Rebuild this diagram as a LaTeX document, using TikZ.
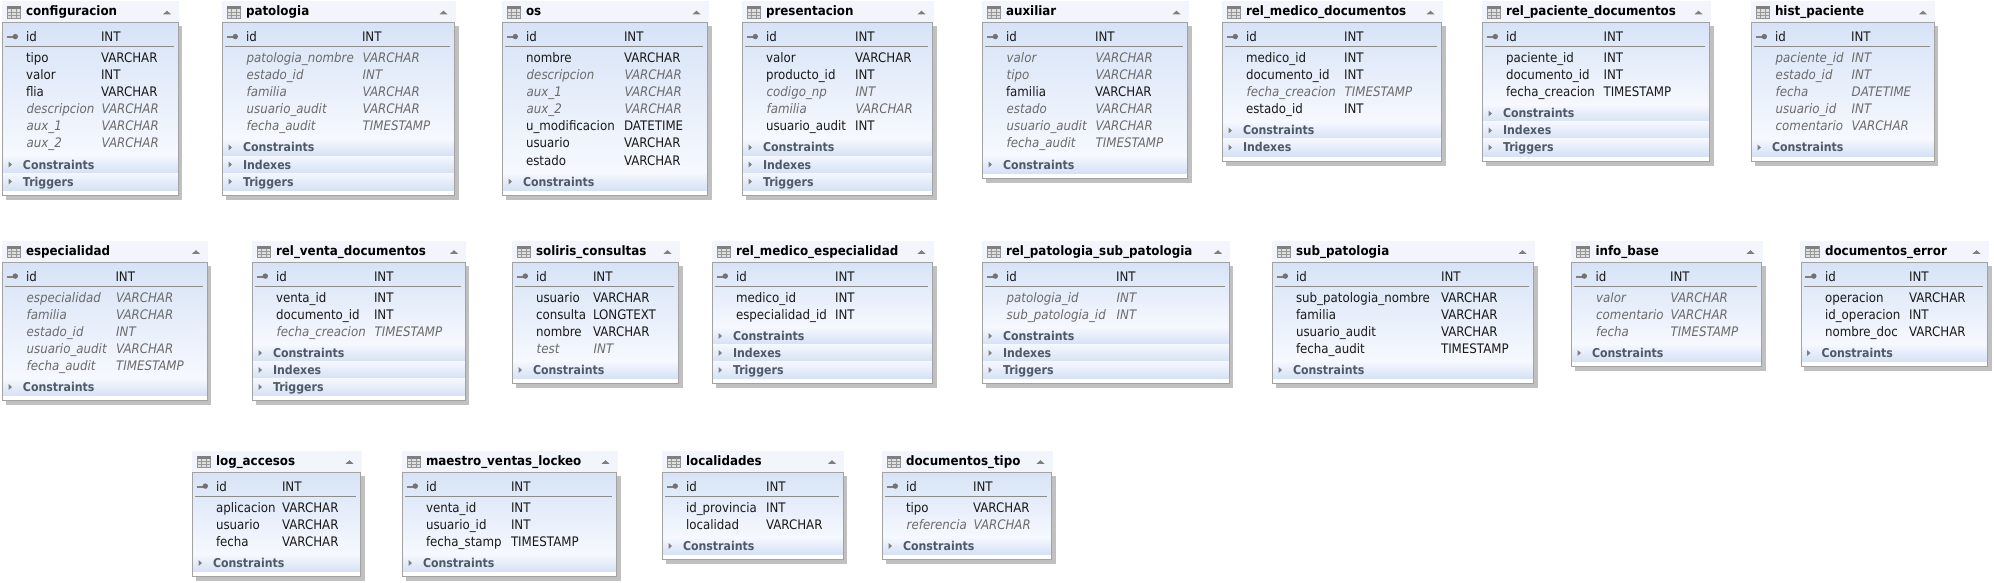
\documentclass[tikz,border=0pt]{standalone}
\usepackage{fontspec}
\setmainfont{DejaVu Sans}[FakeStretch=0.9]
\newfontfamily\ttlfont{DejaVu Sans}[FakeStretch=0.915]
\newcount\rowsN
\newcount\grpsN
\definecolor{frameC}{HTML}{A2A2A2}
\definecolor{shadowC}{HTML}{C0C0C0}
\definecolor{headC}{HTML}{F2F5FB}
\definecolor{bodyTop}{HTML}{D7E3F6}
\definecolor{bodyBot}{HTML}{F6F9FE}
\definecolor{bandTop}{HTML}{F5F8FE}
\definecolor{bandBot}{HTML}{D5E1F5}
\definecolor{sepC}{HTML}{8C8C8C}
\definecolor{iconC}{HTML}{7F7F7F}
\definecolor{grpC}{HTML}{4F5968}
\definecolor{dimC}{HTML}{6B6B6B}
\tikzset{
  x=1pt,y=1pt,
  cellbase/.style={anchor=base west,inner sep=0pt,outer sep=0pt,font=\fontsize{13.15}{14}\selectfont},
  celln/.style={cellbase,text=black!90},
  celli/.style={cellbase,text=dimC,xshift=.7pt,font=\fontsize{13.15}{14}\selectfont\itshape},
  titletext/.style={anchor=base west,inner sep=0pt,outer sep=0pt,text=black,font=\ttlfont\fontsize{13}{15}\selectfont\bfseries},
  grouptext/.style={anchor=base west,inner sep=0pt,outer sep=0pt,text=grpC,font=\fontsize{12.2}{14}\selectfont\bfseries},
}
% id, left, right, top, name x, type x, title, rows, groups
\def\dbtable#1#2#3#4#5#6#7#8#9{%
  \global\rowsN=0 \foreach \xx in {#8}{\global\advance\rowsN by 1}%
  \global\grpsN=0 \foreach \xx in {#9}{\global\advance\grpsN by 1}%
  \pgfmathsetmacro{\tabB}{#4+36+17*(\the\rowsN+\the\grpsN)}%
  \pgfmathsetmacro{\tabG}{#4+31+17*\the\rowsN}%
  % header band
  \fill[headC] ({#2-1},{-(#4-22)}) rectangle ({#3+1},{-(#4-1)});
  % shadow and box
  \fill[shadowC] ({#2+3},{-(#4+3)}) rectangle ({#3+4},{-(\tabB+4.5)});
  \fill[white] (#2,-#4) rectangle (#3,-\tabB);
  \shade[top color=bodyTop,bottom color=bodyBot] (#2,-#4) rectangle (#3,-\tabG);
  % group bands
  \foreach \gn [count=\gk from 0] in {#9}{%
    \pgfmathsetmacro{\gy}{\tabG+17*\gk}%
    \shade[top color=bandTop,bottom color=bandBot] (#2,-\gy) rectangle (#3,{-(\gy+17)});
    \fill[iconC] ({#2+6},{-(\gy+5.5)}) -- ({#2+9.5},{-(\gy+8.5)}) -- ({#2+6},{-(\gy+11.5)}) -- cycle;
    \node[grouptext] (#1-g\gk) at ({#2+20.5},{-(\gy+13)}) {\gn};
  }%
  \draw[frameC,line width=1pt] (#2,-#4) rectangle (#3,-\tabB);
  \draw[sepC,line width=1pt] ({#2+2.5},{-(#4+23.5)}) -- ({#3-4.5},{-(#4+23.5)});
  % table icon
  \fill[gray!25] ({#2+4.5},{-(#4-16.5)}) rectangle ({#2+18},{-(#4-5)});
  \draw[iconC!85,line width=.9pt] ({#2+4.5},{-(#4-16.5)}) rectangle ({#2+18},{-(#4-5)});
  \fill[iconC] ({#2+4.5},{-(#4-16.5)}) rectangle ({#2+18},{-(#4-13.8)});
  \draw[iconC!80,line width=.6pt] ({#2+9},{-(#4-14)}) -- ({#2+9},{-(#4-5)})
     ({#2+13.5},{-(#4-14)}) -- ({#2+13.5},{-(#4-5)})
     ({#2+4.5},{-(#4-11)}) -- ({#2+18},{-(#4-11)})
     ({#2+4.5},{-(#4-8)}) -- ({#2+18},{-(#4-8)});
  % collapse arrow
  \fill[iconC] ({#3-15},{-(#4-8.7)}) -- ({#3-11},{-(#4-12.3)}) -- ({#3-7},{-(#4-8.7)}) -- cycle;
  % key icon
  \draw[iconC,line width=2pt] ({#2+4},{-(#4+14)}) -- ({#2+12},{-(#4+14)});
  \fill[iconC!90!black] ({#2+12.8},{-(#4+13.6)}) circle (2.7);
  % texts
  \node[titletext] (#1-title) at (#5,{-(#4-7.5)}) {#7};
  \node[celln] (#1-idn) at (#5,{-(#4+19)}) {id};
  \node[celln] (#1-idt) at (#6,{-(#4+19)}) {INT};
  \foreach \nm/\ty/\st [count=\rk from 0] in {#8}{%
    \pgfmathsetmacro{\ry}{#4+40+17*\rk}%
    \node[cell\st] (#1-n\rk) at (#5,-\ry) {\nm};
    \node[cell\st] (#1-t\rk) at (#6,-\ry) {\ty};
  }%
}
\begin{document}
\begin{tikzpicture}
\useasboundingbox (0,0) rectangle (1994,-583);
\fill[white] (0,0) rectangle (1994,-583);
% row 1
\dbtable{conf}{2.5}{178}{23}{26}{101}{configuracion}
  {tipo/VARCHAR/n,valor/INT/n,flia/VARCHAR/n,descripcion/VARCHAR/i,aux\_1/VARCHAR/i,aux\_2/VARCHAR/i}
  {Constraints,Triggers}
\dbtable{pato}{222.5}{454.5}{23}{246}{362}{patologia}
  {patologia\_nombre/VARCHAR/i,estado\_id/INT/i,familia/VARCHAR/i,usuario\_audit/VARCHAR/i,fecha\_audit/TIMESTAMP/i}
  {Constraints,Indexes,Triggers}
\dbtable{os}{502.5}{707.5}{23}{526}{624}{os}
  {nombre/VARCHAR/n,descripcion/VARCHAR/i,aux\_1/VARCHAR/i,aux\_2/VARCHAR/i,u\_modificacion/DATETIME/n,usuario/VARCHAR/n,estado/VARCHAR/n}
  {Constraints}
\dbtable{pres}{742.5}{932.5}{23}{766}{855}{presentacion}
  {valor/VARCHAR/n,producto\_id/INT/n,codigo\_np/INT/i,familia/VARCHAR/i,usuario\_audit/INT/n}
  {Constraints,Indexes,Triggers}
\dbtable{aux}{982.5}{1187.5}{23}{1006}{1095}{auxiliar}
  {valor/VARCHAR/i,tipo/VARCHAR/i,familia/VARCHAR/n,estado/VARCHAR/i,usuario\_audit/VARCHAR/i,fecha\_audit/TIMESTAMP/i}
  {Constraints}
\dbtable{rmd}{1222.5}{1441.5}{23}{1246}{1344}{rel\_medico\_documentos}
  {medico\_id/INT/n,documento\_id/INT/n,fecha\_creacion/TIMESTAMP/i,estado\_id/INT/n}
  {Constraints,Indexes}
\dbtable{rpd}{1482.5}{1709.5}{23}{1506}{1603.5}{rel\_paciente\_documentos}
  {paciente\_id/INT/n,documento\_id/INT/n,fecha\_creacion/TIMESTAMP/n}
  {Constraints,Indexes,Triggers}
\dbtable{hist}{1751.5}{1934}{23}{1775}{1851}{hist\_paciente}
  {paciente\_id/INT/i,estado\_id/INT/i,fecha/DATETIME/i,usuario\_id/INT/i,comentario/VARCHAR/i}
  {Constraints}
% row 2
\dbtable{espe}{2.5}{207}{262.5}{26}{115.5}{especialidad}
  {especialidad/VARCHAR/i,familia/VARCHAR/i,estado\_id/INT/i,usuario\_audit/VARCHAR/i,fecha\_audit/TIMESTAMP/i}
  {Constraints}
\dbtable{rvd}{252.5}{465}{262.5}{276}{374}{rel\_venta\_documentos}
  {venta\_id/INT/n,documento\_id/INT/n,fecha\_creacion/TIMESTAMP/i}
  {Constraints,Indexes,Triggers}
\dbtable{sol}{512.5}{678.5}{262.5}{536}{593}{soliris\_consultas}
  {usuario/VARCHAR/n,consulta/LONGTEXT/n,nombre/VARCHAR/n,test/INT/i}
  {Constraints}
\dbtable{rme}{712.5}{932.5}{262.5}{736}{835}{rel\_medico\_especialidad}
  {medico\_id/INT/n,especialidad\_id/INT/n}
  {Constraints,Indexes,Triggers}
\dbtable{rps}{982.5}{1229}{262.5}{1006}{1116}{rel\_patologia\_sub\_patologia}
  {patologia\_id/INT/i,sub\_patologia\_id/INT/i}
  {Constraints,Indexes,Triggers}
\dbtable{sub}{1272.5}{1533.5}{262.5}{1296}{1441}{sub\_patologia}
  {sub\_patologia\_nombre/VARCHAR/n,familia/VARCHAR/n,usuario\_audit/VARCHAR/n,fecha\_audit/TIMESTAMP/n}
  {Constraints}
\dbtable{info}{1571.5}{1761.5}{262.5}{1595.5}{1670}{info\_base}
  {valor/VARCHAR/i,comentario/VARCHAR/i,fecha/TIMESTAMP/i}
  {Constraints}
\dbtable{derr}{1801}{1987.5}{262.5}{1825}{1909}{documentos\_error}
  {operacion/VARCHAR/n,id\_operacion/INT/n,nombre\_doc/VARCHAR/n}
  {Constraints}
% row 3
\dbtable{log}{192.5}{360.5}{472.5}{216}{282}{log\_accesos}
  {aplicacion/VARCHAR/n,usuario/VARCHAR/n,fecha/VARCHAR/n}
  {Constraints}
\dbtable{mvl}{402.5}{616.5}{472.5}{426}{511}{maestro\_ventas\_lockeo}
  {venta\_id/INT/n,usuario\_id/INT/n,fecha\_stamp/TIMESTAMP/n}
  {Constraints}
\dbtable{loc}{662.5}{843}{472.5}{686}{766}{localidades}
  {id\_provincia/INT/n,localidad/VARCHAR/n}
  {Constraints}
\dbtable{dtip}{882.5}{1051.5}{472.5}{906}{973}{documentos\_tipo}
  {tipo/VARCHAR/n,referencia/VARCHAR/i}
  {Constraints}
\end{tikzpicture}
\end{document}
